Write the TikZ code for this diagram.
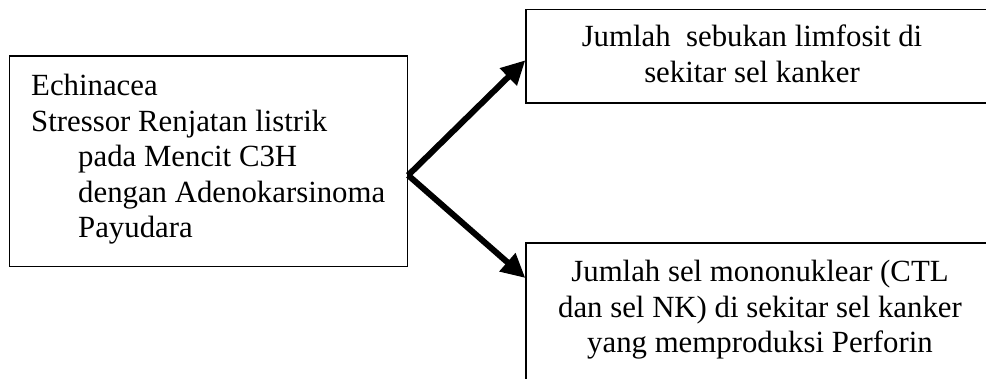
\documentclass[tikz,border=0pt]{standalone}
\usepackage{fontspec}
\setmainfont{Liberation Serif}
\usetikzlibrary{arrows.meta}
\tikzset{
  box/.style={draw=black, line width=1.3pt, inner sep=0pt, fill=none},
  txt/.style={inner sep=0pt, font=\fontsize{30.8}{35.5}\selectfont},
  conn/.style={line width=6pt, -{Triangle[length=24pt,width=23pt]}}
}
\begin{document}
\begin{tikzpicture}[x=1pt,y=-1pt]
\useasboundingbox (0,0) rectangle (986,379);
\clip (0,0) rectangle (986,379);
\fill[white] (0,0) rectangle (986,379);
% boxes
\node[box, minimum width=398pt, minimum height=210.5pt] (L) at (208.5,161.25) {};
\node[box, minimum width=474pt, minimum height=93.5pt] (T) at (763,56.25) {};
\node[box, minimum width=474pt, minimum height=160pt] (B) at (763,323) {};
% texts
\node[txt, anchor=north west, align=left] (Ltxt) at (31,74)
  {Echinacea\\Stressor Renjatan listrik\\\hspace*{47pt}pada Mencit C3H\\\hspace*{47pt}dengan Adenokarsinoma\\\hspace*{47pt}Payudara};
\node[txt, anchor=north, align=center] (Ttxt) at (752,25)
  {Jumlah\ \ sebukan limfosit di\\sekitar sel kanker};
\node[txt, anchor=north, align=center] (Btxt) at (760,260)
  {Jumlah sel mononuklear (CTL\\dan sel NK) di sekitar sel kanker\\yang memproduksi Perforin};
% connectors
\coordinate (S) at ([yshift=-14pt]L.east);
\draw[conn] (S) -- ([yshift=-4pt]T.west);
\draw[conn] (S) -- (B.west |- 0,278);
\end{tikzpicture}
\end{document}
